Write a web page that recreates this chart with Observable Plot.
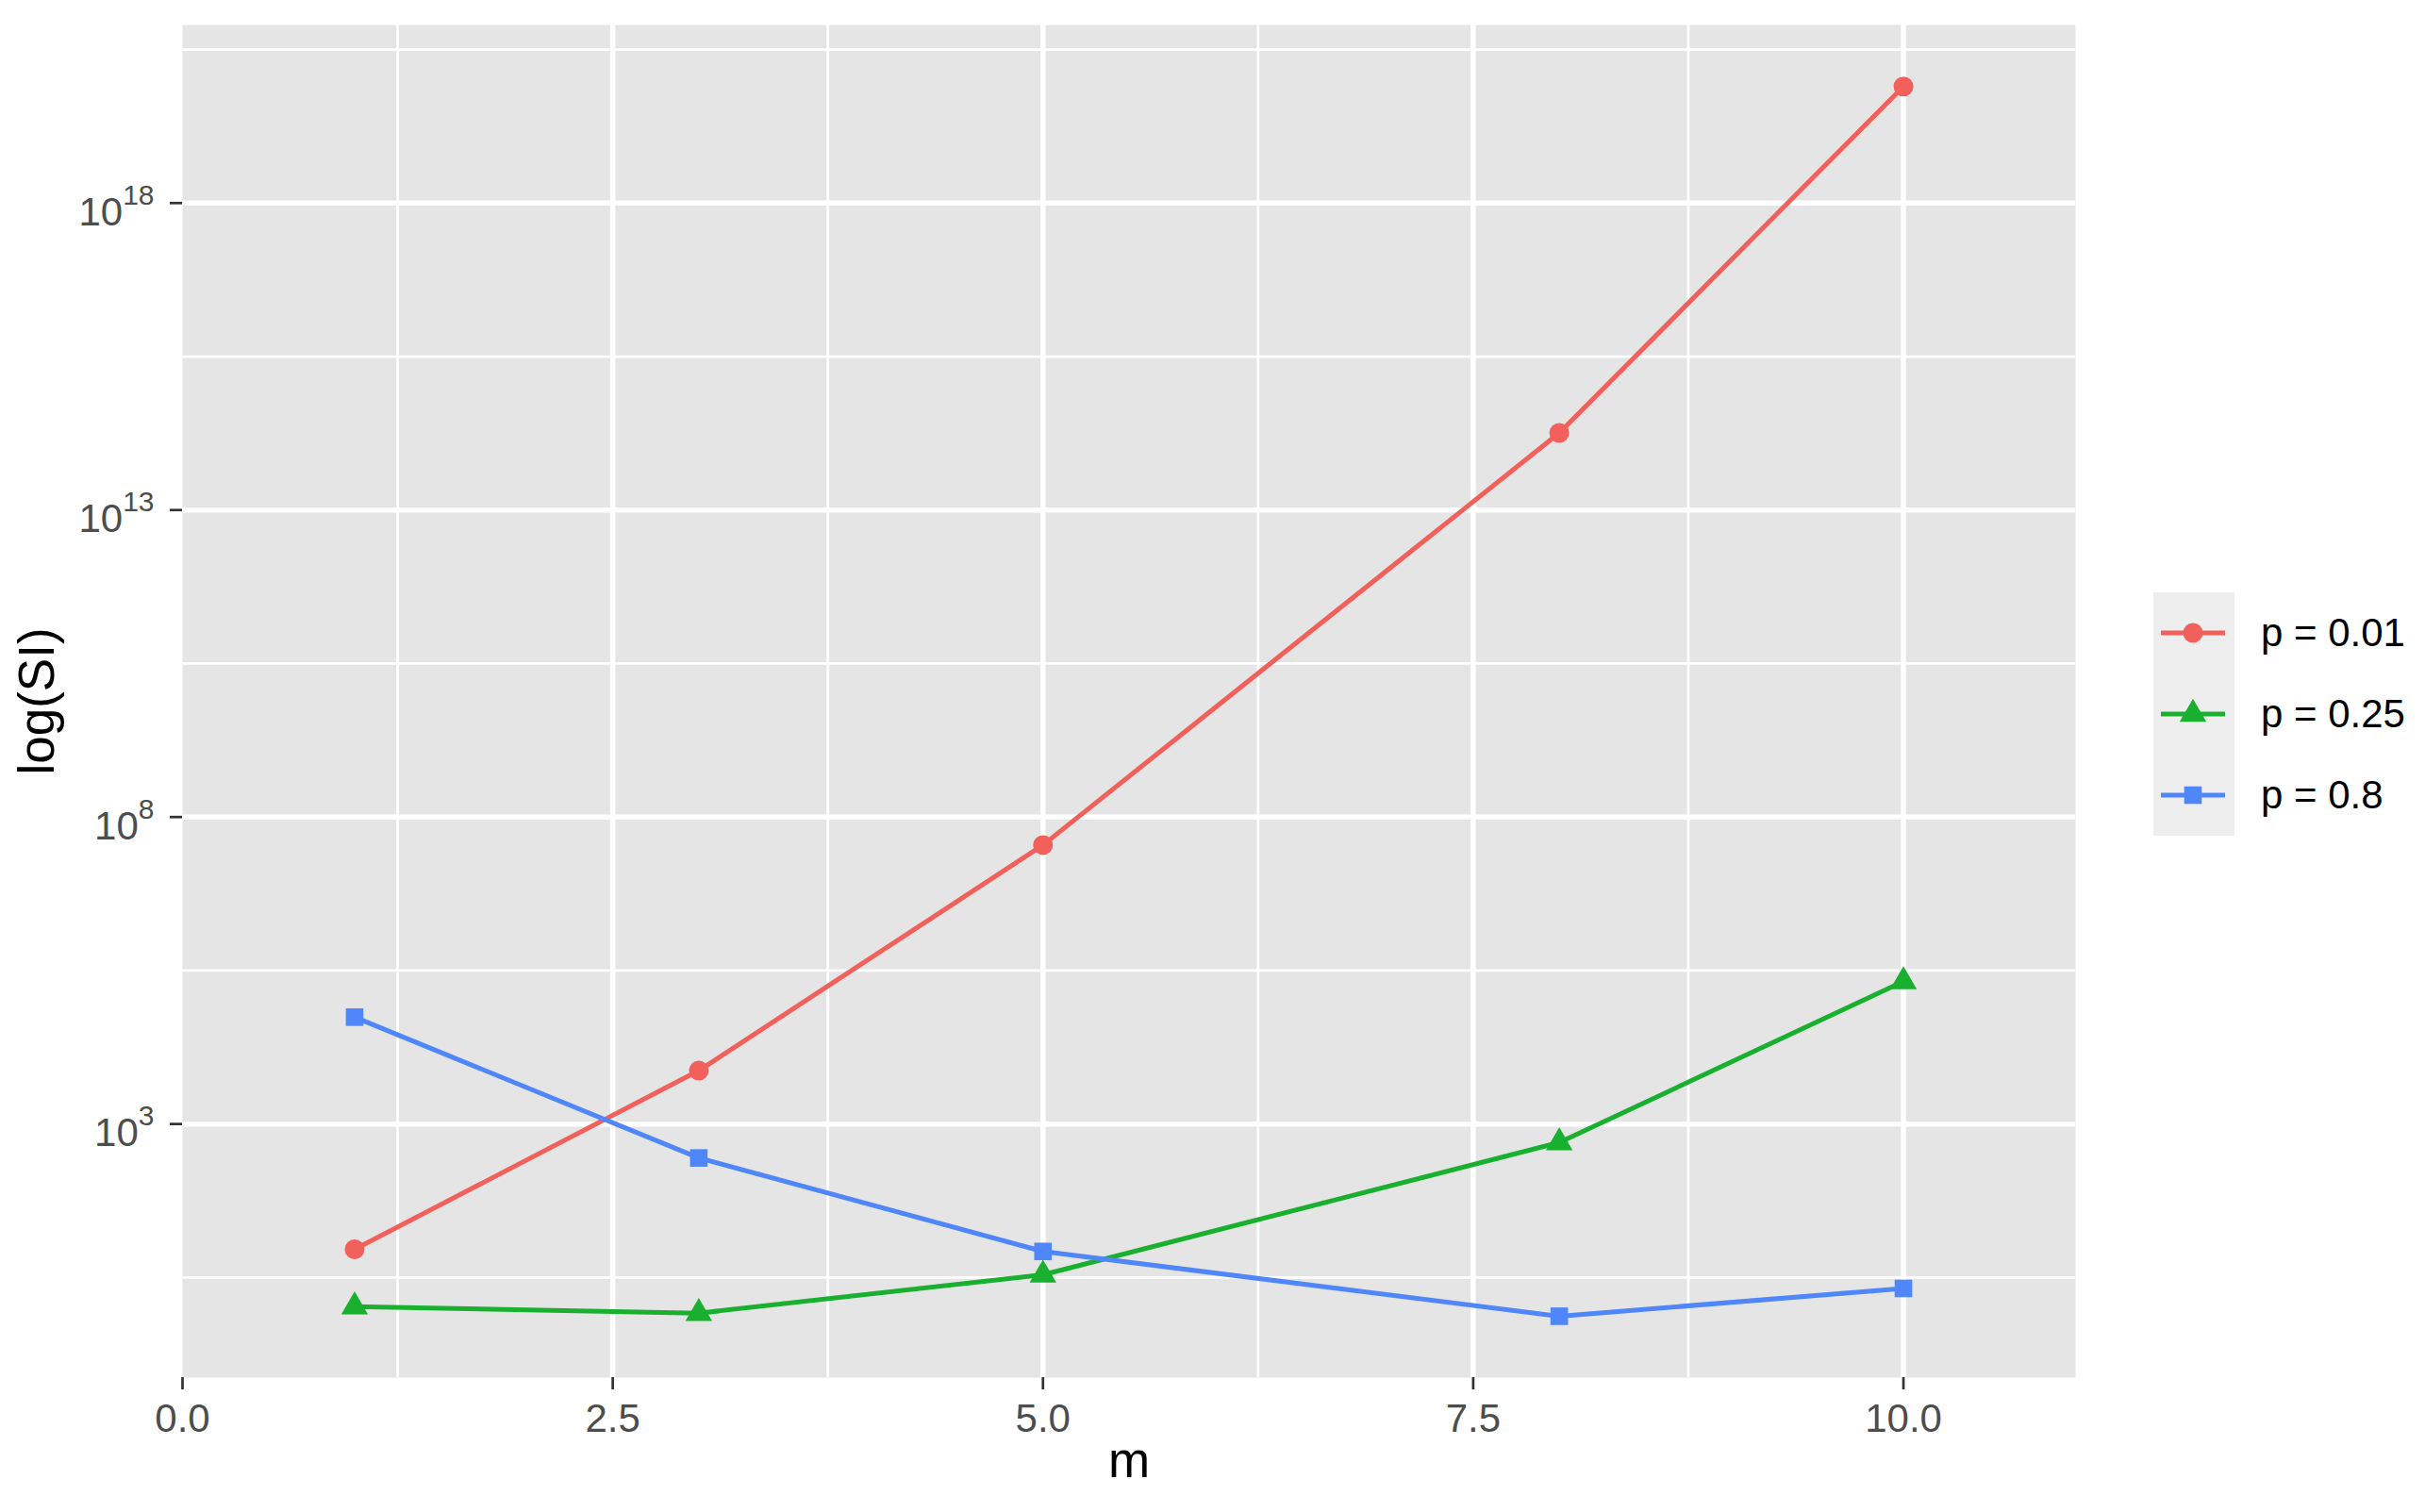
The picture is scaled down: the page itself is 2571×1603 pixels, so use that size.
<!DOCTYPE html>
<html><head><meta charset="utf-8">
<script src="https://cdn.jsdelivr.net/npm/d3@7"></script>
<script src="https://cdn.jsdelivr.net/npm/@observablehq/plot@0.6"></script>
<style>
html,body{margin:0;padding:0;background:#fff;}
#wrap{position:relative;width:2571px;height:1603px;font-family:"Liberation Sans",Arial,Helvetica,sans-serif;}
</style></head><body><div id="wrap"></div>
<script>
const mValues = [1, 3, 5, 8, 10];
const seriesNames = ["p = 0.01", "p = 0.25", "p = 0.8"];
const siP001 = [9.1, 7400, 3.5e7, 1.8e14, 7.9e19];
const siP025 = [1.06, 0.83, 3.5, 500, 2.1e5];
const siP08 = [5.5e4, 280, 8.4, 0.74, 2.1];
const xTicks = [0, 2.5, 5, 7.5, 10];
const xMinor = [1.25, 3.75, 6.25, 8.75];
const yTickExponents = [3, 8, 13, 18];
const yMinorExponents = [0.5, 5.5, 10.5, 15.5, 20.5];
const colors = ["#F2605B", "#1AB02F", "#4F86FA"];
const symbolNames = ["circle", "triangle", "square"];

const seriesValues = [siP001, siP025, siP08];
const data = [];
seriesNames.forEach((s, i) => mValues.forEach((m, j) => data.push({series: s, m, si: seriesValues[i][j]})));
const yTicks = yTickExponents.map(e => 10 ** e);
const yMinor = yMinorExponents.map(e => 10 ** e);
const FONT = '"Liberation Sans", Arial, Helvetica, sans-serif';

const plot = Plot.plot({
  width: 2571, height: 1603,
  marginLeft: 193, marginRight: 371, marginTop: 26, marginBottom: 143,
  style: {fontFamily: FONT, fontSize: "42px", background: "white", overflow: "visible"},
  x: {domain: [0, 11]},
  y: {type: "log", domain: [10 ** -1.13, 10 ** 20.9]},
  color: {domain: seriesNames, range: colors},
  symbol: {domain: seriesNames, range: symbolNames},
  marks: [
    Plot.frame({fill: "#E5E5E5", stroke: null}),
    Plot.ruleX(xMinor, {stroke: "white", strokeWidth: 2.75}),
    Plot.ruleY(yMinor, {stroke: "white", strokeWidth: 2.75}),
    Plot.ruleX(xTicks.filter(d => d > 0), {stroke: "white", strokeWidth: 5.5}),
    Plot.ruleY(yTicks, {stroke: "white", strokeWidth: 5.5}),
    Plot.line(data, {x: "m", y: "si", z: "series", stroke: "series", strokeWidth: 5}),
    Plot.dot(data, {x: "m", y: "si", fill: "series", symbol: "series", r: 10.5}),
    Plot.axisX({ticks: xTicks, tickFormat: d3.format(".1f"), tickSize: 13, tickPadding: 15, stroke: "#333333", strokeWidth: 2.7, fill: "#4D4D4D", label: null}),
    Plot.axisY({ticks: yTicks, tickFormat: d => "10^" + Math.round(Math.log10(d)), tickSize: 13, tickPadding: 17, stroke: "#333333", strokeWidth: 2.7, fill: "#4D4D4D", label: null}),
    Plot.text(["m"], {frameAnchor: "bottom", text: d => d, dy: 105, fontSize: 53, fill: "black"}),
    Plot.text(["log(SI)"], {frameAnchor: "left", text: d => d, rotate: -90, textAnchor: "middle", dx: -153, fontSize: 53, fill: "black"})
  ]
});

// superscript exponents in y tick labels
d3.select(plot).selectAll('g[aria-label="y-axis tick label"] text').each(function() {
  const t = this.textContent;
  const exp = t.split("^")[1];
  const sel = d3.select(this);
  sel.text(null).attr("y", 23.5);
  sel.append("tspan").text("10");
  sel.append("tspan").attr("dy", -22).attr("font-size", "30px").text(exp);
});

const wrap = d3.select("#wrap");
wrap.node().appendChild(plot);

// legend
const d3symbols = [d3.symbolCircle, d3.symbolTriangle, d3.symbolSquare];
const legend = wrap.append("div").style("position", "absolute").style("left", "2283px").style("top", "628px");
seriesNames.forEach((name, i) => {
  const row = legend.append("div").style("display", "flex").style("align-items", "center").style("height", "86px");
  const svg = row.append("svg").attr("width", 86).attr("height", 86).style("background", "#EEEEEE").style("display", "block");
  svg.append("line").attr("x1", 8).attr("x2", 76).attr("y1", 43).attr("y2", 43).attr("stroke", colors[i]).attr("stroke-width", 5);
  svg.append("path").attr("transform", "translate(42,43)").attr("d", d3.symbol(d3symbols[i], Math.PI * 10.5 * 10.5)()).attr("fill", colors[i]);
  row.append("span").style("margin-left", "28px").style("font-size", "42px").style("color", "black").text(name);
});
</script>
</body></html>
